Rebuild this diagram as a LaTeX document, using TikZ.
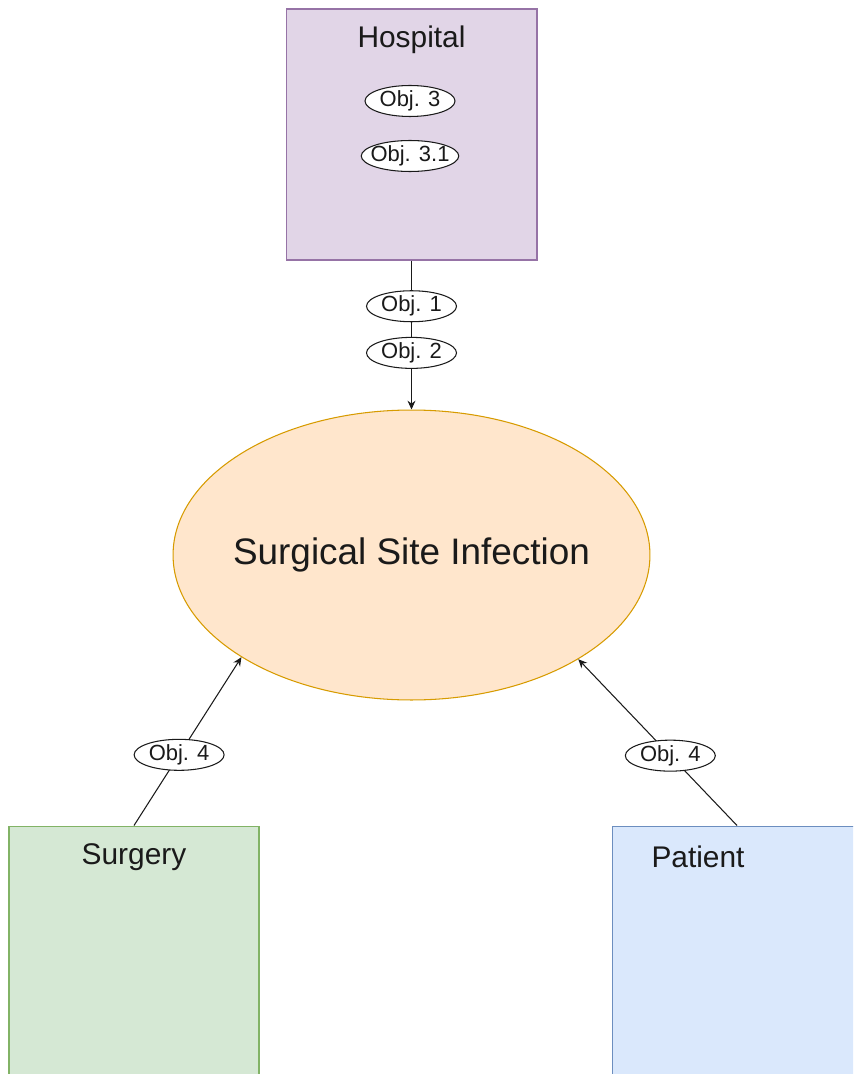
\documentclass[tikz,border=0pt]{standalone}
\usepackage{fontspec}
\setmainfont{Liberation Sans}
\usetikzlibrary{shapes.geometric, arrows.meta, positioning}
\definecolor{Ink}{HTML}{1A1A1A}
\definecolor{HospFill}{HTML}{E1D5E7}
\definecolor{HospLine}{HTML}{9673A6}
\definecolor{InfFill}{HTML}{FFE6CC}
\definecolor{InfLine}{HTML}{D79B00}
\definecolor{SurgFill}{HTML}{D5E8D4}
\definecolor{SurgLine}{HTML}{82B366}
\definecolor{PatFill}{HTML}{DAE8FC}
\definecolor{PatLine}{HTML}{6C8EBF}

\begin{document}
\begin{tikzpicture}[
        x=0.02cm, y=-0.02cm,
        box/.style={rectangle, line width=0.6pt, minimum width=5cm, minimum height=5.16cm, inner sep=0pt},
        title/.style={font=\fontsize{17}{20}\selectfont, text=Ink, inner sep=0pt},
        tag/.style={ellipse, draw=Ink, fill=white, line width=0.6pt, font=\fontsize{12.5}{15}\selectfont, text=Ink,
                    inner xsep=-0.1cm, inner ysep=0pt, minimum width=1.8cm, minimum height=0.62cm},
        infect/.style={ellipse, draw=InfLine, fill=InfFill, line width=0.6pt, minimum width=9.54cm, minimum height=5.8cm,
                       inner xsep=-1.5cm, font=\fontsize{21}{25}\selectfont, text=Ink},
        arrow/.style={-{Stealth[length=5pt, width=4.5pt]}, line width=0.6pt, color=Ink}
    ]
    \useasboundingbox (0,0) rectangle (853,1074);
    \clip (0,0) rectangle (853,1074);

    % top: hospital
    \node[box, draw=HospLine, fill=HospFill, minimum width=5.02cm, minimum height=5.02cm] (hosp) at (411.5,134.5) {};
    \node[title] (hosptitle) at (411.5,40) {Hospital};
    \node[tag] (obj3) at (410,101) {Obj. 3};
    \node[tag] (obj31) at (410,156) {Obj. 3.1};

    % centre
    \node[infect] (ssi) at (411.5,555) {Surgical Site Infection};

    % bottom boxes
    \node[box, draw=SurgLine, fill=SurgFill] (surg) at (134,955) {};
    \node[title] (surgtitle) at (134,857) {Surgery};
    \node[box, draw=PatLine, fill=PatFill] (pat) at (737,955) {};
    \node[title] (pattitle) at (698,857) {Patient};

    \draw[arrow] (hosp.south) -- node[tag, pos=0.307] (obj1) {Obj. 1} node[tag, pos=0.62] (obj2) {Obj. 2} (ssi.north);
    \draw[arrow] (surg.north) -- node[tag, pos=0.42] (obj4a) {Obj. 4} (ssi.211.5);
    \draw[arrow] (pat.north) -- node[tag, pos=0.42] (obj4b) {Obj. 4} (ssi.-32);
\end{tikzpicture}
\end{document}
